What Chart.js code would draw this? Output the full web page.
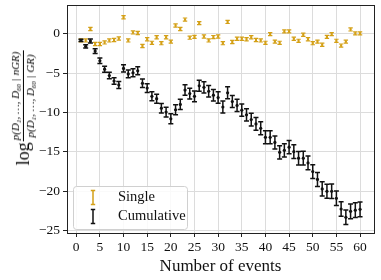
<!DOCTYPE html>
<html>
<head>
<meta charset="utf-8">
<script src="https://cdn.jsdelivr.net/npm/chart.js@4/dist/chart.umd.min.js"></script>
<style>
  html,body{margin:0;padding:0;background:#fff;}
  #wrap{position:relative;width:381px;height:280px;}
  #ylab{position:absolute;left:23px;top:108px;transform:translate(-50%,-50%) rotate(-90deg);white-space:nowrap;font-family:'Liberation Serif',serif;display:flex;align-items:center;color:#000;}
  #ylab .log{font-size:18px;margin-right:1px;}
  #ylab .frac{display:inline-flex;flex-direction:column;align-items:center;font-size:11px;font-style:italic;line-height:1.05;}
  #ylab .num{border-bottom:0.8px solid #000;padding:0 1px 1px 1px;}
  #ylab .den{padding-top:1px;}
  #ylab sub{font-size:7px;vertical-align:-2px;line-height:0;}
</style>
</head>
<body>
<div id="wrap">
  <canvas id="c" width="381" height="280"></canvas>
  <div id="ylab"><span class="log">log</span><span class="frac"><span class="num">p(D<sub>1</sub>, …, D<sub>60</sub> | nGR)</span><span class="den">p(D<sub>1</sub>, …, D<sub>60</sub> | GR)</span></span></div>
</div>
<script>
const events = Array.from({length:60},(_,i)=>i+1);
const singleVals = [-0.85,-0.85,0.6,-1.3,-1.3,-1.1,-0.85,-0.8,-0.6,2.1,
  -0.85,0.17,0.1,-1.55,-0.7,-1.15,-0.45,-1.2,-0.45,-1.0,
  1.05,0.6,1.8,-0.5,-0.4,1.35,-0.35,-0.85,-0.42,-0.35,
  -1.2,1.5,-1.05,-0.63,-0.63,-0.7,-0.45,-0.8,-0.85,-1.15,
  -0.05,-1.0,-1.15,0.3,0.3,-0.63,-0.9,-0.13,-0.7,-1.2,
  -1.0,-1.4,-0.4,-0.05,-0.9,-1.5,-1.0,0.55,0.05,0.05];
const singleErr = [0.2,0.2,0.2,0.2,0.2,0.2,0.2,0.2,0.2,0.2,
  0.2,0.2,0.2,0.2,0.2,0.2,0.2,0.2,0.2,0.2,
  0.2,0.2,0.2,0.2,0.2,0.2,0.2,0.2,0.2,0.2,
  0.2,0.2,0.2,0.2,0.2,0.2,0.2,0.2,0.2,0.2,
  0.2,0.2,0.2,0.2,0.2,0.2,0.2,0.2,0.2,0.2,
  0.2,0.2,0.2,0.2,0.2,0.2,0.2,0.2,0.2,0.2];
const cumVals = [-0.85,-1.6,-0.93,-2.2,-3.43,-4.5,-5.3,-6.0,-6.5,-4.4,
  -5.1,-4.95,-4.7,-6.3,-6.9,-7.95,-8.25,-9.45,-9.95,-10.8,
  -9.65,-8.97,-7.15,-7.6,-7.95,-6.6,-6.8,-7.3,-7.8,-8.1,
  -9.3,-7.5,-8.6,-9.1,-9.7,-10.3,-10.9,-11.45,-12.0,-13.15,
  -13.15,-13.8,-15.06,-14.8,-14.4,-14.97,-15.8,-15.8,-16.4,-17.5,
  -18.5,-19.7,-20.0,-20.0,-20.9,-22.25,-23.3,-22.55,-22.4,-22.3];
const cumErr = [0.15,0.2,0.25,0.3,0.35,0.38,0.4,0.42,0.45,0.47,
  0.5,0.51,0.52,0.54,0.55,0.57,0.58,0.6,0.61,0.63,
  0.64,0.65,0.66,0.68,0.69,0.7,0.71,0.72,0.73,0.74,
  0.75,0.76,0.77,0.77,0.78,0.79,0.8,0.8,0.81,0.82,
  0.82,0.83,0.84,0.84,0.85,0.86,0.86,0.87,0.88,0.88,
  0.89,0.9,0.9,0.91,0.92,0.92,0.93,0.94,0.94,0.95];
const xTicks = [0,5,10,15,20,25,30,35,40,45,50,55,60];
const yTicks = [-25,-20,-15,-10,-5,0];
const seriesNames = ['Cumulative','Single'];

const GOLD = '#d4a017';
const DARK = '#111111';
const FONT = "'Liberation Serif', serif";

const errors = [cumErr, singleErr];

const errorBarPlugin = {
  id:'errbars',
  beforeDatasetDraw(chart, args){
    const i = args.index;
    const ds = chart.data.datasets[i];
    const err = errors[i];
    const xs = chart.scales.x, ys = chart.scales.y;
    const ctx = chart.ctx;
    ctx.save();
    ctx.strokeStyle = ds.borderColor;
    ctx.lineWidth = i===0 ? 1.5 : 1.2;
    const cap = i===0 ? 2.5 : 2.2;
    ds.data.forEach((p,k)=>{
      const px = xs.getPixelForValue(p.x);
      const y1 = ys.getPixelForValue(p.y - err[k]);
      const y2 = ys.getPixelForValue(p.y + err[k]);
      ctx.beginPath();
      ctx.moveTo(px,y1); ctx.lineTo(px,y2);
      ctx.moveTo(px-cap,y1); ctx.lineTo(px+cap,y1);
      ctx.moveTo(px-cap,y2); ctx.lineTo(px+cap,y2);
      ctx.stroke();
    });
    ctx.restore();
  },
  afterDraw(chart){
    const ctx = chart.ctx, a = chart.chartArea;
    ctx.save();
    ctx.strokeStyle = '#222';
    ctx.lineWidth = 1;
    ctx.strokeRect(Math.round(a.left)+0.5, Math.round(a.top)+0.5, Math.round(a.right-a.left), Math.round(a.bottom-a.top));
    // legend
    const lx = 73.5, ly = 186.5, lw = 114, lh = 43;
    ctx.beginPath();
    ctx.roundRect(lx, ly, lw, lh, 3);
    ctx.fillStyle = 'rgba(255,255,255,0.85)';
    ctx.fill();
    ctx.strokeStyle = '#d0d0d0';
    ctx.stroke();
    const entries = [[seriesNames[1], GOLD, 197.5],[seriesNames[0], DARK, 216.5]];
    entries.forEach(([name,col,cy])=>{
      ctx.strokeStyle = col;
      ctx.lineWidth = 1.5;
      const gx = 93;
      ctx.beginPath();
      ctx.moveTo(gx, cy-7); ctx.lineTo(gx, cy+7);
      ctx.moveTo(gx-2.2, cy-7); ctx.lineTo(gx+2.2, cy-7);
      ctx.moveTo(gx-2.2, cy+7); ctx.lineTo(gx+2.2, cy+7);
      ctx.stroke();
      ctx.fillStyle = '#111';
      ctx.font = "14.5px " + FONT;
      ctx.textBaseline = 'middle';
      ctx.textAlign = 'left';
      ctx.fillText(name, 118, cy);
    });
    ctx.restore();
  }
};

new Chart(document.getElementById('c'), {
  type:'scatter',
  data:{
    datasets:[
      {label:seriesNames[0], data:events.map((e,i)=>({x:e,y:cumVals[i]})),
        borderColor:DARK, backgroundColor:DARK, pointStyle:'circle', pointRadius:1.6, pointBorderWidth:0},
      {label:seriesNames[1], data:events.map((e,i)=>({x:e,y:singleVals[i]})),
        borderColor:GOLD, backgroundColor:GOLD, pointStyle:'rect', pointRadius:1.5, pointBorderWidth:0}
    ]
  },
  plugins:[errorBarPlugin],
  options:{
    responsive:false,
    animation:false,
    devicePixelRatio:1,
    layout:{padding:{left:0,right:7,top:5,bottom:0}},
    plugins:{legend:{display:false}, tooltip:{enabled:false}},
    scales:{
      x:{
        type:'linear', min:-1.95, max:62.95,
        afterBuildTicks(s){ s.ticks = xTicks.map(v=>({value:v})); },
        afterFit(s){ s.height = 47; s.paddingLeft = 0; s.paddingRight = 0; },
        grid:{color:'#dcdcdc', lineWidth:1, tickColor:'#222', tickLength:4, drawTicks:true},
        border:{display:false},
        ticks:{font:{family:FONT,size:13.5}, color:'#111', padding:2, maxRotation:0, autoSkip:false},
        title:{display:true, text:'Number of events', font:{family:FONT,size:17}, color:'#111', padding:{top:0,bottom:3}}
      },
      y:{
        type:'linear', min:-25.3, max:3.65,
        afterBuildTicks(s){ s.ticks = yTicks.map(v=>({value:v})); },
        afterFit(s){ s.width = 67; s.paddingTop = 0; s.paddingBottom = 0; },
        grid:{color:'#dcdcdc', lineWidth:1, tickColor:'#222', tickLength:4, drawTicks:true},
        border:{display:false},
        ticks:{font:{family:FONT,size:13.5}, color:'#111', padding:3,
          callback:(v)=> v<0 ? '\u2212'+Math.abs(v) : String(v)}
      }
    }
  }
});
</script>
</body>
</html>
